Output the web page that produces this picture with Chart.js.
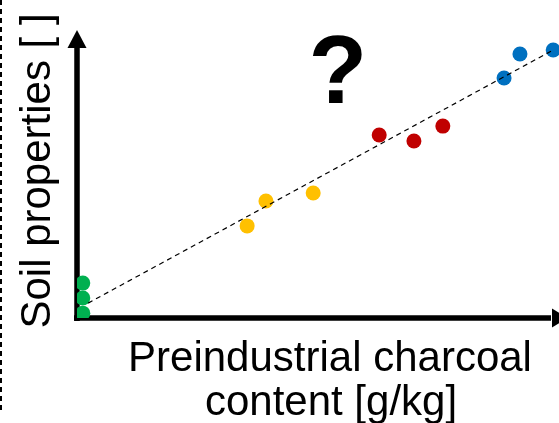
<!DOCTYPE html>
<html>
<head>
<meta charset="utf-8">
<script src="https://cdn.jsdelivr.net/npm/chart.js@4"></script>
<style>
  html, body { margin: 0; padding: 0; background: #fff; }
  #wrap { width: 559px; height: 423px; position: relative; }
</style>
</head>
<body>
<div id="wrap"><canvas id="soil-chart"></canvas></div>
<script>
// charcoal content (x) vs soil property (y), arbitrary units 0..10
const greenX = [0.12, 0.12, 0.12];
const greenY = [1.22, 0.70, 0.17];
const yellowX = [3.53, 3.92, 4.90];
const yellowY = [3.22, 4.09, 4.37];
const redX = [6.27, 6.99, 7.59];
const redY = [6.40, 6.19, 6.71];
const blueX = [8.86, 9.19, 9.88];
const blueY = [8.39, 9.23, 9.37];
const trendX = [0.23, 9.88];
const trendY = [0.52, 9.37];

const xTitle = ["Preindustrial charcoal", "content [g/kg]"];
const yTitle = "Soil properties [ ]";
const mark = "?";

const pts = (xs, ys) => xs.map((x, i) => ({ x: x, y: ys[i] }));

function dotSet(label, xs, ys, color) {
  return {
    label: label,
    data: pts(xs, ys),
    backgroundColor: color,
    borderColor: color,
    borderWidth: 0,
    pointRadius: 7.5,
    pointHoverRadius: 7.5,
  };
}

// arrows, titles, the big question mark and the dashed frame edge
const decorPlugin = {
  id: "decor",
  beforeDatasetsDraw(chart) {
    const { ctx, chartArea } = chart;
    const l = chartArea.left, b = chartArea.bottom, t = chartArea.top, r = chartArea.right;
    ctx.save();
    ctx.strokeStyle = "#000";
    ctx.fillStyle = "#000";
    ctx.lineWidth = 5.5;
    ctx.beginPath();
    ctx.moveTo(l, b + 3);
    ctx.lineTo(l, t + 14);
    ctx.moveTo(l - 3, b);
    ctx.lineTo(r - 8, b);
    ctx.stroke();
    // y arrow head
    ctx.beginPath();
    ctx.moveTo(l, t - 2);
    ctx.lineTo(l - 9.5, t + 16);
    ctx.lineTo(l + 9.5, t + 16);
    ctx.closePath();
    ctx.fill();
    // x arrow head
    ctx.beginPath();
    ctx.moveTo(r + 9, b);
    ctx.lineTo(r - 7, b - 9.5);
    ctx.lineTo(r - 7, b + 9.5);
    ctx.closePath();
    ctx.fill();

    // dashed left edge
    ctx.lineWidth = 2;
    ctx.setLineDash([5, 4]);
    ctx.beginPath();
    ctx.moveTo(1, 0);
    ctx.lineTo(1, 410);
    ctx.stroke();
    ctx.setLineDash([]);

    // axis titles
    ctx.font = "42px 'Liberation Sans', Arial, sans-serif";
    ctx.textAlign = "center";
    ctx.textBaseline = "alphabetic";
    ctx.fillText(xTitle[0], 330, 371);
    ctx.fillText(xTitle[1], 331, 415);
    ctx.save();
    ctx.translate(50, 171);
    ctx.rotate(-Math.PI / 2);
    ctx.fillText(yTitle, 0, 0);
    ctx.restore();

    // question mark
    const xs = chart.scales.x, ys = chart.scales.y;
    ctx.font = "bold 96px 'Liberation Sans', Arial, sans-serif";
    ctx.fillText(mark, xs.getPixelForValue(5.41), ys.getPixelForValue(7.52));
    ctx.restore();
  },
};

const config = {
  type: "scatter",
  data: {
    datasets: [
      {
        type: "line",
        label: "trend",
        data: pts(trendX, trendY),
        borderColor: "#000",
        borderWidth: 1.2,
        borderDash: [5, 4],
        pointRadius: 0,
        fill: false,
      },
      dotSet("green", greenX, greenY, "#00B050"),
      dotSet("yellow", yellowX, yellowY, "#FFC000"),
      dotSet("red", redX, redY, "#C00000"),
      dotSet("blue", blueX, blueY, "#0070C0"),
    ],
  },
  options: {
    responsive: true,
    maintainAspectRatio: false,
    animation: false,
    layout: { autoPadding: false, padding: { left: 77, right: 0, top: 32, bottom: 105 } },
    plugins: {
      legend: { display: false },
      tooltip: { enabled: false },
    },
    scales: {
      x: { type: "linear", min: 0, max: 10, display: false },
      y: { type: "linear", min: 0, max: 10, display: false },
    },
  },
  plugins: [decorPlugin],
};

const ctx = document.getElementById("soil-chart").getContext("2d");
const soilChart = new Chart(ctx, config);
</script>
</body>
</html>
